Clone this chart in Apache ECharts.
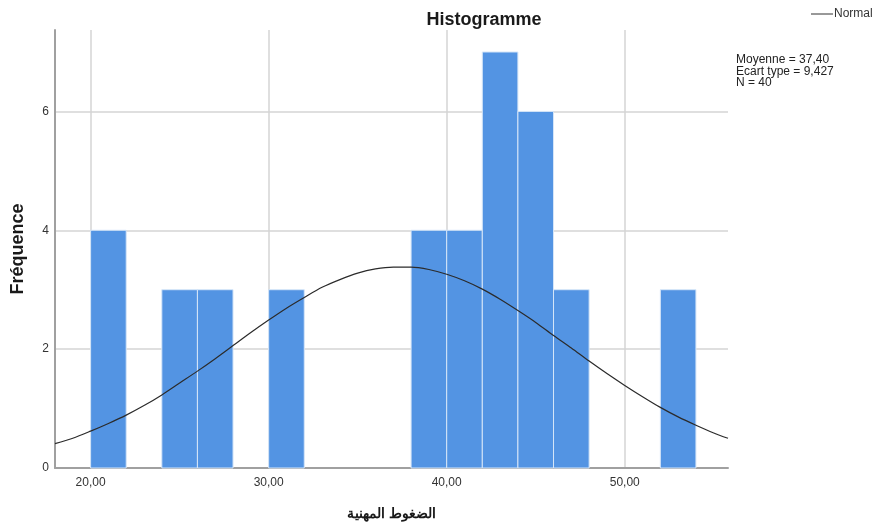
<!DOCTYPE html>
<html>
<head>
<meta charset="utf-8">
<script src="https://cdn.jsdelivr.net/npm/echarts@6/dist/echarts.min.js"></script>
<style>
  html, body { margin: 0; padding: 0; background: #ffffff; }
  #chart { width: 873px; height: 527px; }
</style>
</head>
<body>
<div id="chart"></div>
<script>
// Histogram bins: lower edge, upper edge, and frequency
const binStart = [20, 24, 26, 30, 38, 40, 42, 44, 46, 52];
const binEnd   = [22, 26, 28, 32, 40, 42, 44, 46, 48, 54];
const binCount = [4, 3, 3, 3, 4, 4, 7, 6, 3, 3];

// Fitted normal curve (scaled to frequency), sampled every unit
const curveX = [18, 19, 20, 21, 22, 23, 24, 25, 26, 27, 28, 29, 30, 31, 32, 33, 34, 35, 36, 37,
                38, 39, 40, 41, 42, 43, 44, 45, 46, 47, 48, 49, 50, 51, 52, 53, 54, 55, 55.8];
const curveY = [0.41, 0.50, 0.62, 0.75, 0.89, 1.05, 1.23, 1.43, 1.63, 1.84, 2.06, 2.28, 2.49, 2.69,
                2.87, 3.04, 3.17, 3.28, 3.35, 3.38, 3.38, 3.34, 3.26, 3.15, 3.01, 2.84, 2.65, 2.45,
                2.23, 2.02, 1.80, 1.59, 1.39, 1.20, 1.02, 0.86, 0.72, 0.59, 0.50];

const xTicks = [20, 30, 40, 50];
const yTicks = [0, 2, 4, 6];

const statLines = ['Moyenne = 37,40', 'Ecart type = 9,427', 'N = 40'];

const FONT = '"Liberation Sans", Arial, sans-serif';

const barData = binStart.map((s, i) => [s, binEnd[i], binCount[i]]);
const curveData = curveX.map((x, i) => [x, curveY[i]]);

const chart = echarts.init(document.getElementById('chart'), null, { renderer: 'canvas' });

chart.setOption({
  animation: false,
  backgroundColor: '#ffffff',
  title: {
    text: 'Histogramme',
    left: 479,
    top: 6,
    textAlign: 'center',
    textStyle: { fontFamily: FONT, fontSize: 18, fontWeight: 'bold', color: '#1a1a1a' }
  },
  graphic: [
    {
      type: 'line',
      shape: { x1: 811, y1: 14, x2: 833, y2: 14 },
      style: { stroke: '#333333', lineWidth: 1 }
    },
    {
      type: 'text',
      left: 834,
      top: 8,
      style: { text: 'Normal', fontFamily: FONT, fontSize: 12, fill: '#333333' }
    },
    {
      type: 'text',
      left: 736,
      top: 54,
      style: {
        text: statLines.join('\n'),
        fontFamily: FONT,
        fontSize: 12,
        lineHeight: 11.5,
        fill: '#222222'
      }
    }
  ],
  grid: { left: 55, right: 145, top: 30, bottom: 59, containLabel: false },
  xAxis: {
    type: 'value',
    min: 18,
    max: 55.8,
    name: 'الضغوط المهنية',
    nameLocation: 'middle',
    nameGap: 39,
    nameTextStyle: { fontFamily: FONT, fontSize: 14, fontWeight: 'bold', color: '#1a1a1a' },
    axisLine: { show: true, lineStyle: { color: '#a0a0a0', width: 2 } },
    axisTick: { show: false, customValues: xTicks },
    axisLabel: {
      customValues: xTicks,
      margin: 9,
      fontFamily: FONT,
      fontSize: 12,
      color: '#333333',
      formatter: v => v.toFixed(2).replace('.', ',')
    },
    splitLine: { show: true, lineStyle: { color: '#d4d4d4', width: 1.5 } }
  },
  yAxis: {
    type: 'value',
    min: 0,
    max: 7.37,
    name: 'Fréquence',
    nameLocation: 'middle',
    nameGap: 28,
    nameRotate: 90,
    nameTextStyle: { fontFamily: FONT, fontSize: 18, fontWeight: 'bold', color: '#1a1a1a' },
    axisLine: { show: true, lineStyle: { color: '#a0a0a0', width: 2 } },
    axisTick: { show: false, customValues: yTicks },
    axisLabel: {
      customValues: yTicks,
      margin: 6,
      fontFamily: FONT,
      fontSize: 12,
      color: '#333333'
    },
    splitLine: { show: true, lineStyle: { color: '#d4d4d4', width: 1.5 } }
  },
  series: [
    {
      type: 'custom',
      data: barData,
      encode: { x: [0, 1], y: 2 },
      z: 3,
      renderItem: function (params, api) {
        const p0 = api.coord([api.value(0), api.value(2)]);
        const p1 = api.coord([api.value(1), 0]);
        return {
          type: 'rect',
          shape: { x: p0[0], y: p0[1], width: p1[0] - p0[0], height: p1[1] - p0[1] },
          style: { fill: '#5394e3', stroke: '#d6e6f8', lineWidth: 1 }
        };
      }
    },
    {
      type: 'line',
      data: curveData,
      smooth: 0.3,
      symbol: 'none',
      z: 4,
      lineStyle: { color: '#2b2b2b', width: 1.2 }
    }
  ]
});
</script>
</body>
</html>
